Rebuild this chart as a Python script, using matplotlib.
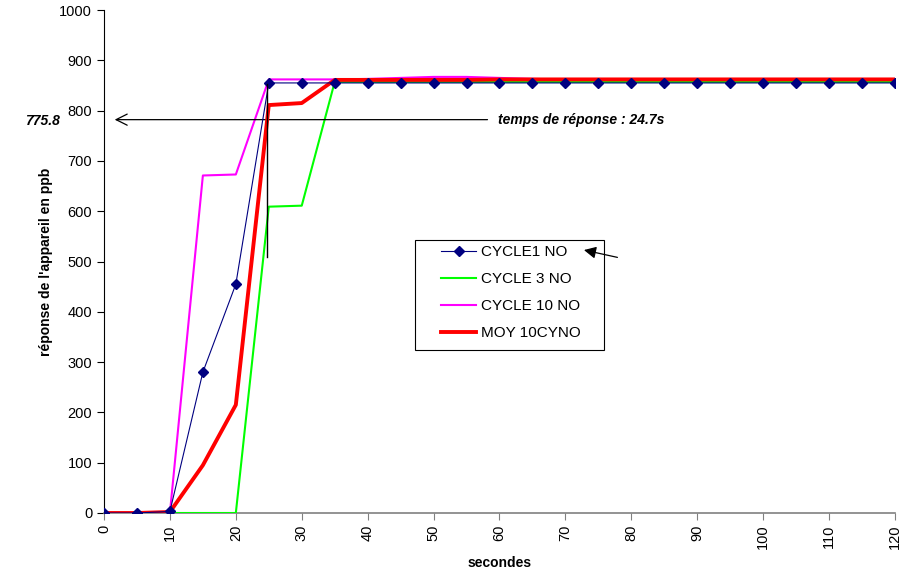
import matplotlib.pyplot as plt
import matplotlib.patches as mpatches
import numpy as np

plt.rcParams['font.family'] = ['Liberation Sans', 'DejaVu Sans']

# time axis (s)
secondes = list(range(0, 125, 5))

cycle1 = [0, 0, 3, 280, 455, 855, 855, 855, 855, 855, 855, 855, 855,
          855, 855, 855, 855, 855, 855, 855, 855, 855, 855, 855, 855]
cycle3 = [0, 0, 0, 0, 0, 609, 611, 857, 857, 857, 857, 857, 857,
          857, 857, 857, 857, 857, 857, 857, 857, 857, 857, 857, 857]
cycle10 = [0, 0, 0, 671, 673, 862, 862, 862, 863, 865, 867, 867, 865,
           863, 862, 861, 861, 861, 861, 861, 861, 861, 861, 861, 861]
moyenne = [0, 0, 2, 95, 215, 811, 815, 861, 861, 861, 861, 861, 862,
           862, 862, 862, 862, 862, 862, 862, 862, 862, 862, 862, 862]

seuil = 775.8
t_reponse = 24.7

fig = plt.figure(figsize=(9.04, 5.73), dpi=100)
ax = fig.add_axes([104 / 904, 60 / 573, 791 / 904, 503 / 573])

ax.plot(secondes, cycle1, color='#000080', linewidth=0.8, marker='D',
        markersize=5, label='CYCLE1 NO', zorder=5)
ax.plot(secondes, cycle3, color='#00ff00', linewidth=1.5, label='CYCLE 3 NO', zorder=3)
ax.plot(secondes, cycle10, color='#ff00ff', linewidth=1.5, label='CYCLE 10 NO', zorder=2)
ax.plot(secondes, moyenne, color='#ff0000', linewidth=2.8, label='MOY 10CYNO', zorder=4)

# response time markers
ax.plot([t_reponse, t_reponse], [508, 852], color='black', linewidth=1, zorder=6)
ax.annotate('', xy=(1.2, 782), xytext=(58.6, 782),
            arrowprops=dict(arrowstyle='->', color='black', lw=0.9,
                            mutation_scale=20))
ax.text(59.8, 782, f'temps de réponse : {t_reponse}s', fontsize=10,
        fontweight='bold', fontstyle='italic', va='center')
fig.text(25 / 904, 1 - 121 / 573, f'{seuil}', fontsize=10,
         fontweight='bold', fontstyle='italic', va='center')
ax.annotate('', xy=(72.4, 524), xytext=(78.3, 507),
            arrowprops=dict(arrowstyle='-|>', color='black', lw=0.9,
                            mutation_scale=18), zorder=10)

ax.set_xlim(0, 120)
ax.set_ylim(0, 1000)
ax.set_xticks(np.arange(0, 121, 10))
ax.set_yticks(np.arange(0, 1001, 100))
ax.tick_params(axis='x', labelrotation=90, labelsize=10.5, length=5, color='gray')
ax.tick_params(axis='y', labelsize=10.5, length=5)
ax.spines['top'].set_visible(False)
ax.spines['right'].set_visible(False)
ax.spines['bottom'].set_color('gray')
ax.spines['bottom'].set_linewidth(1.2)

ax.set_xlabel('secondes', fontsize=10, fontweight='bold')
ax.set_ylabel("réponse de l'appareil en ppb", fontsize=10, fontweight='bold')
ax.xaxis.set_label_coords(0.5, -0.085)
ax.yaxis.set_label_coords(-0.065, 0.5)

# legend box drawn separately (wide side margins like the original)
box = mpatches.Rectangle(((415 - 104) / 791, (513 - 350) / 503), 189 / 791, 110 / 503,
                         transform=ax.transAxes, facecolor='white', edgecolor='black',
                         linewidth=0.8, zorder=7)
ax.add_patch(box)
leg = ax.legend(loc='upper left', bbox_to_anchor=((441 - 104) / 791, (513 - 245) / 503),
                frameon=False, fontsize=11, handlelength=2.3, labelspacing=0.85,
                borderpad=0, handletextpad=0.3, borderaxespad=0)
leg.set_zorder(8)
for h in leg.legend_handles:
    h.set_markersize(5)

fig.savefig('out.png', dpi=100)
